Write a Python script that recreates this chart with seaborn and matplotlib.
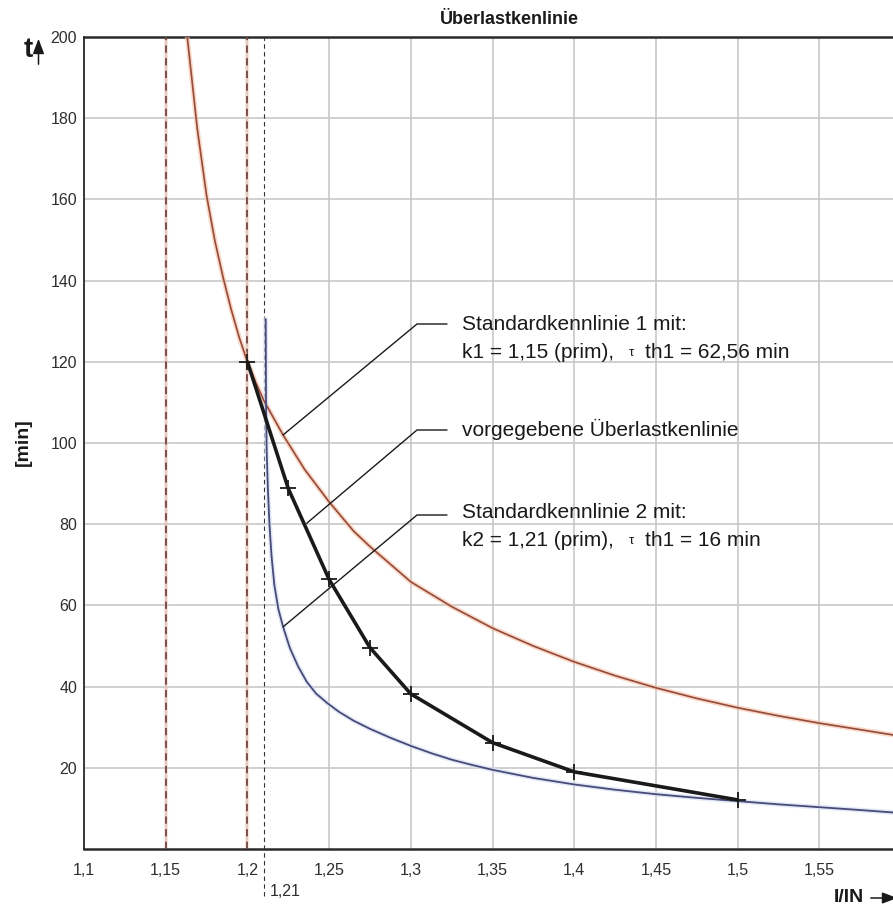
import numpy as np
import pandas as pd
import matplotlib
matplotlib.use("Agg")
import matplotlib.pyplot as plt
import seaborn as sns

# ---------------- data ----------------
# Standardkennlinie 1 (k1 = 1,15, tau = 62,56 min)
k1_x = [1.1632, 1.1693, 1.175, 1.180, 1.185, 1.190, 1.195, 1.200, 1.205,
        1.210, 1.2218, 1.235, 1.250, 1.265, 1.275, 1.300, 1.325, 1.350,
        1.375, 1.400, 1.425, 1.450, 1.475, 1.500, 1.525, 1.550, 1.575, 1.595]
k1_t = [200.0, 177.5, 161.0, 150.0, 141.0, 133.0, 126.0, 120.0, 115.0,
        110.5, 102.0, 93.5, 85.5, 78.3, 74.5, 65.8, 59.7, 54.4,
        50.0, 46.1, 42.7, 39.7, 37.1, 34.8, 32.8, 31.0, 29.4, 28.1]

# Standardkennlinie 2 (k2 = 1,21, tau = 16 min)
k2_x = [1.2112, 1.2114, 1.2118, 1.2125, 1.2135, 1.2148, 1.2165, 1.219, 1.222,
        1.226, 1.231, 1.2363, 1.242, 1.2487, 1.256, 1.265, 1.275, 1.2875,
        1.300, 1.3125, 1.325, 1.3375, 1.350, 1.375, 1.400, 1.425, 1.450,
        1.475, 1.500, 1.525, 1.550, 1.575, 1.595]
k2_t = [130.5, 110.0, 98.0, 89.0, 80.0, 72.0, 65.0, 59.0, 54.5,
        49.5, 45.0, 41.2, 38.3, 36.0, 33.8, 31.6, 29.6, 27.4,
        25.4, 23.6, 22.0, 20.7, 19.5, 17.5, 15.9, 14.6, 13.5,
        12.6, 11.8, 11.0, 10.3, 9.6, 9.0]

# vorgegebene Überlastkennlinie (points with crosses)
vg_x = [1.200, 1.225, 1.250, 1.275, 1.300, 1.350, 1.400, 1.500]
vg_t = [120.0, 88.8, 66.4, 49.6, 38.2, 26.2, 19.0, 12.1]

# vertical reference lines
red_vlines = [1.15, 1.20]
k2_line = 1.21

x_ticks = [1.1, 1.15, 1.2, 1.25, 1.3, 1.35, 1.4, 1.45, 1.5, 1.55]
x_ticklabels = ["1,1", "1,15", "1,2", "1,25", "1,3", "1,35", "1,4", "1,45", "1,5", "1,55"]
y_ticks = [20, 40, 60, 80, 100, 120, 140, 160, 180, 200]

title = "Überlastkenlinie"
ann1 = ["Standardkennlinie 1 mit:", "k1 = 1,15 (prim),", "th1 = 62,56 min"]
ann2 = "vorgegebene Überlastkenlinie"
ann3 = ["Standardkennlinie 2 mit:", "k2 = 1,21 (prim),", "th1 = 16 min"]

# ---------------- figure ----------------
sns.set_theme(style="white")
plt.rcParams["font.family"] = ["Liberation Sans", "DejaVu Sans"]

W, H = 893, 907
fig = plt.figure(figsize=(W / 100, H / 100), dpi=100)
L, R, T, B = 84, 893, 37, 849
ax = fig.add_axes([L / W, (H - B) / H, (R - L) / W, (B - T) / H])

xmax = 1.1 + (R - L) / 81.7 * 0.05
ax.set_xlim(1.1, xmax)
ax.set_ylim(0, 200)

ax.set_xticks(x_ticks)
ax.set_xticklabels(x_ticklabels)
ax.set_yticks(y_ticks)
ax.tick_params(axis="both", length=0, labelsize=11.5, colors="#2e2e2e")
ax.tick_params(axis="x", pad=10)
ax.tick_params(axis="y", pad=5)
ax.grid(True, color="#c8c8c8", linewidth=1.2)
ax.set_axisbelow(True)
for s in ["left", "bottom", "top"]:
    ax.spines[s].set_color("#2a2a2a")
ax.spines["left"].set_linewidth(1.3)
ax.spines["bottom"].set_linewidth(1.8)
ax.spines["top"].set_linewidth(1.8)
ax.spines["right"].set_visible(False)

# vertical dashed lines
for xv in red_vlines:
    ax.axvline(xv, color="#f6c8b8", linewidth=3, alpha=0.45, zorder=2)
    ax.axvline(xv, color="#704545", linewidth=1.3, linestyle=(0, (4, 3)), zorder=3)
ax.plot([k2_line, k2_line], [-11.5, 200], color="#333333", linewidth=0.8,
        linestyle=(0, (4, 3)), clip_on=False, zorder=3)
ax.text(k2_line + 0.0035, -10.4, "1,21", fontsize=11.5, color="#2e2e2e",
        ha="left", va="center")

# curves
d1 = pd.DataFrame({"x": k1_x, "t": k1_t})
d2 = pd.DataFrame({"x": k2_x, "t": k2_t})
d3 = pd.DataFrame({"x": vg_x, "t": vg_t})

sns.lineplot(data=d1, x="x", y="t", ax=ax, sort=False, estimator=None,
             color="#f7c4a8", linewidth=3.5, alpha=0.65, zorder=4)
sns.lineplot(data=d1, x="x", y="t", ax=ax, sort=False, estimator=None,
             color="#944a3c", linewidth=1.2, zorder=5)
sns.lineplot(data=d2, x="x", y="t", ax=ax, sort=False, estimator=None,
             color="#d8e2f4", linewidth=3.5, alpha=0.7, zorder=4)
sns.lineplot(data=d2, x="x", y="t", ax=ax, sort=False, estimator=None,
             color="#4a4a78", linewidth=1.3, zorder=5)
sns.lineplot(data=d3, x="x", y="t", ax=ax, sort=False, estimator=None,
             color="#1a1a1a", linewidth=2.6, marker="+", markersize=11,
             markeredgewidth=1.3, markeredgecolor="#1a1a1a", zorder=6)
ax.set_xlabel("")
ax.set_ylabel("")


def px2d(px, py):
    return 1.1 + (px - L) / 81.7 * 0.05, (B - py) / ((B - T) / 200)


# leader lines
leaders = [((283, 435), (417, 324), (447, 324)),
           ((306.7, 523.3), (417, 430), (447, 430)),
           ((283.3, 626.7), (417, 515), (447, 515))]
for pts in leaders:
    xs, ys = zip(*[px2d(*p) for p in pts])
    ax.plot(xs, ys, color="#1a1a1a", linewidth=1.0, zorder=7)

fs = 15
tc = "#1a1a1a"


def put(px, py, s, size=fs):
    xx, yy = px2d(px, py)
    ax.text(xx, yy, s, fontsize=size, color=tc, ha="left", va="center", zorder=8)


put(462, 325, ann1[0])
put(462, 352, ann1[1])
put(629, 353, "τ", size=9.5)
put(645, 352, ann1[2])
put(462, 429, ann2)
put(462, 513, ann3[0])
put(462, 540, ann3[1])
put(629, 541, "τ", size=9.5)
put(645, 540, ann3[2])

# title and axis labels
ax.text((509 - L) / (R - L), 1.0 + 9 / (B - T), title, transform=ax.transAxes,
        ha="center", va="bottom", fontsize=13, fontweight="bold", color=tc)
fig.text(23 / W, 1 - 442 / H, "[min]", rotation=90, ha="center", va="center",
         fontsize=14, fontweight="bold", color=tc)
fig.text(28 / W, 1 - 50 / H, "t", ha="center", va="center",
         fontsize=20, fontweight="bold", color=tc)
fig.add_artist(matplotlib.patches.FancyArrowPatch(
    (38.5 / W, 1 - 67 / H), (38.5 / W, 1 - 36 / H), transform=fig.transFigure,
    arrowstyle="-|>,head_length=0.45,head_width=0.17", mutation_scale=20,
    color=tc, linewidth=1.1))
fig.text(849 / W, 1 - 897 / H, "I/IN", ha="center", va="center",
         fontsize=14, fontweight="bold", color=tc)
fig.add_artist(matplotlib.patches.FancyArrowPatch(
    (868 / W, 1 - 898 / H), (900 / W, 1 - 898 / H), transform=fig.transFigure,
    arrowstyle="-|>,head_length=0.45,head_width=0.17", mutation_scale=20,
    color=tc, linewidth=1.1))

fig.savefig("out.png", dpi=100, facecolor="white")
